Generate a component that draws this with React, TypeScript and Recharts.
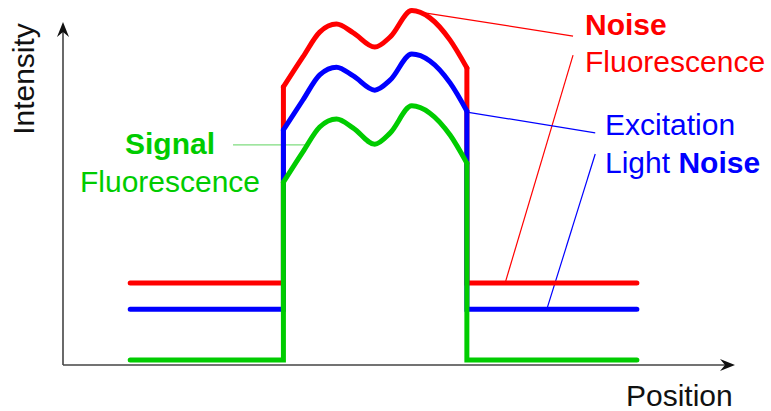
import React from "react";
import { LineChart, Line, XAxis, YAxis, ReferenceLine } from "recharts";

// x: position units (0-100), y: intensity units (0-100)
const CURVE_X = [32.8, 35.7, 38.2, 40.7, 43.2, 46.4, 48.7, 51.9, 54.6, 57.6, 60.1];
const NOISE_FL = [76.2, 84.4, 91.2, 93.4, 91.0, 87.1, 89.9, 97.1, 95.1, 89.0, 81.4];
const EXCITATION = [64.4, 72.6, 79.5, 81.6, 79.2, 75.3, 78.1, 85.2, 83.3, 77.3, 69.6];
const SIGNAL_FL = [50.1, 58.4, 65.2, 67.4, 64.9, 60.5, 63.6, 71.0, 69.0, 63.0, 55.3];

// start of baseline, left edge, right edge, end of baseline
const EDGE_X = [10, 32.8, 60.1, 85.4];
const NOISE_BASE = 22.5;
const EXCITATION_BASE = 15.3;
const SIGNAL_BASE = 1.4;

// leader lines [x1, y1, x2, y2]
const LEADERS = [
  { color: "#ff0000", seg: [53.1, 96.7, 75.9, 90.1] },
  { color: "#ff0000", seg: [75.9, 84.9, 65.8, 22.5] },
  { color: "#0000ff", seg: [60.1, 69.3, 79.2, 63.6] },
  { color: "#0000ff", seg: [79.2, 57.8, 72.0, 15.3] },
  { color: "#7fdc7f", seg: [25.3, 60.3, 36.5, 60.3] },
];

const RED = "#ff0000";
const BLUE = "#0000ff";
const GREEN = "#00cc00";
const FONT = "'Liberation Sans', Arial, sans-serif";
const FS = 30;

const curveData = CURVE_X.map((x, i) => ({
  x,
  noise: NOISE_FL[i],
  excitation: EXCITATION[i],
  signal: SIGNAL_FL[i],
}));

function edges(base: number, curve: number[]) {
  const [x0, xl, xr, x1] = EDGE_X;
  return [
    { x: x0, y: base },
    { x: xl, y: base },
    { x: xl, y: curve[0] },
    { x: (xl + xr) / 2, y: null },
    { x: xr, y: curve[curve.length - 1] },
    { x: xr, y: base },
    { x: x1, y: base },
  ];
}

const ArrowAxis = (props: any) => {
  const { x1, y1, x2, y2 } = props;
  const a = Math.atan2(y2 - y1, x2 - x1);
  const c = Math.cos(a);
  const s = Math.sin(a);
  const len = 15;
  const half = 6;
  const notch = 10;
  const bx = x2 - len * c;
  const by = y2 - len * s;
  const nx = x2 - notch * c;
  const ny = y2 - notch * s;
  const d = `M${x2},${y2} L${bx - half * s},${by + half * c} L${nx},${ny} L${bx + half * s},${by - half * c} Z`;
  return (
    <g>
      <line x1={x1} y1={y1} x2={nx} y2={ny} stroke="#444" strokeWidth={1.6} />
      <path d={d} fill="#111" />
    </g>
  );
};

const SERIES = [
  { key: "noise", color: RED, base: NOISE_BASE, curve: NOISE_FL },
  { key: "excitation", color: BLUE, base: EXCITATION_BASE, curve: EXCITATION },
  { key: "signal", color: GREEN, base: SIGNAL_BASE, curve: SIGNAL_FL },
];

export default function App() {
  return (
    <div style={{ position: "absolute", left: 0, top: 0, width: 771, height: 411, background: "#fff" }}>
      <LineChart
        width={771}
        height={411}
        data={curveData}
        margin={{ top: 0, right: 36, bottom: 46, left: 63 }}
      >
        <XAxis type="number" dataKey="x" domain={[0, 100]} hide />
        <YAxis type="number" domain={[0, 100]} hide />

        <ReferenceLine segment={[{ x: 0, y: 0 }, { x: 0, y: 94 }]} shape={ArrowAxis} />
        <ReferenceLine segment={[{ x: 0, y: 0 }, { x: 100, y: 0 }]} shape={ArrowAxis} />

        {LEADERS.map((l, i) => (
          <ReferenceLine
            key={"leader" + i}
            segment={[
              { x: l.seg[0], y: l.seg[1] },
              { x: l.seg[2], y: l.seg[3] },
            ]}
            stroke={l.color}
            strokeWidth={1.2}
          />
        ))}

        {SERIES.map((s) => [
          <Line
            key={s.key + "-edge"}
            data={edges(s.base, s.curve)}
            dataKey="y"
            type="linear"
            stroke={s.color}
            strokeWidth={5}
            strokeLinecap="round"
            dot={false}
            activeDot={false}
            connectNulls={false}
            isAnimationActive={false}
          />,
          <Line
            key={s.key}
            dataKey={s.key}
            type="monotone"
            stroke={s.color}
            strokeWidth={5}
            strokeLinecap="round"
            dot={false}
            activeDot={false}
            isAnimationActive={false}
          />,
        ])}

        <text
          x={34}
          y={79}
          textAnchor="middle"
          transform="rotate(-90, 34, 79)"
          fontFamily={FONT}
          fontSize={FS}
          fill="#111"
        >
          Intensity
        </text>
        <text x={626} y={406} fontFamily={FONT} fontSize={FS} fill="#111">
          Position
        </text>

        <text x={585} y={35} fontFamily={FONT} fontSize={FS} fontWeight="bold" fill={RED}>
          Noise
        </text>
        <text x={585} y={72} fontFamily={FONT} fontSize={FS} fill={RED}>
          Fluorescence
        </text>

        <text x={605} y={135} fontFamily={FONT} fontSize={FS} fill={BLUE}>
          Excitation
        </text>
        <text x={605} y={173} fontFamily={FONT} fontSize={FS} fill={BLUE}>
          Light <tspan fontWeight="bold">Noise</tspan>
        </text>

        <text x={170} y={154} textAnchor="middle" fontFamily={FONT} fontSize={FS} fontWeight="bold" fill={GREEN}>
          Signal
        </text>
        <text x={170} y={192} textAnchor="middle" fontFamily={FONT} fontSize={FS} fill={GREEN}>
          Fluorescence
        </text>
      </LineChart>
    </div>
  );
}
